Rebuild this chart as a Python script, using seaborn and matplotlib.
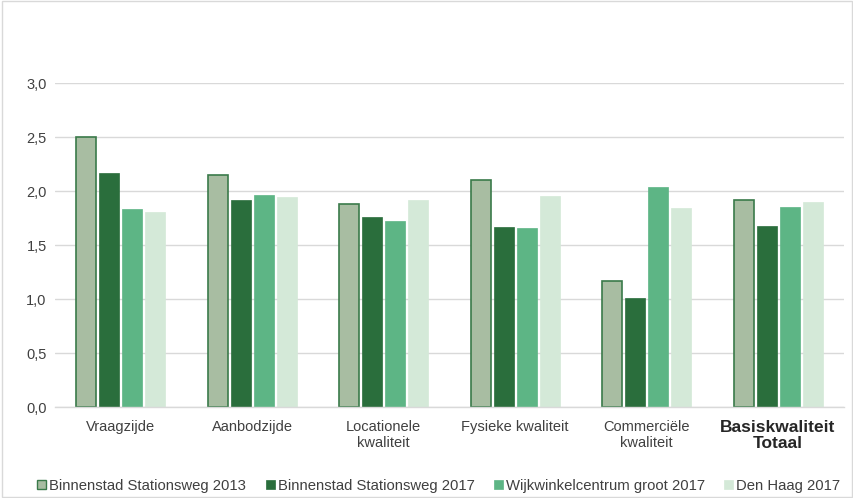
import matplotlib
matplotlib.use("Agg")
import matplotlib.pyplot as plt
import seaborn as sns
import pandas as pd
from matplotlib.patches import Rectangle, Patch

categories = ["Vraagzijde", "Aanbodzijde", "Locationele\nkwaliteit", "Fysieke kwaliteit",
              "Commerciële\nkwaliteit", "Basiskwaliteit\nTotaal"]
series = ["Binnenstad Stationsweg 2013", "Binnenstad Stationsweg 2017",
          "Wijkwinkelcentrum groot 2017", "Den Haag 2017"]
binnenstad_2013 = [2.50, 2.15, 1.88, 2.10, 1.17, 1.92]
binnenstad_2017 = [2.17, 1.92, 1.76, 1.67, 1.01, 1.68]
wijkwinkel_2017 = [1.83, 1.96, 1.72, 1.66, 2.04, 1.85]
den_haag_2017 = [1.81, 1.94, 1.92, 1.95, 1.84, 1.90]
yticks = [0.0, 0.5, 1.0, 1.5, 2.0, 2.5, 3.0]
ytick_labels = ["0,0", "0,5", "1,0", "1,5", "2,0", "2,5", "3,0"]

colors = ["#a8bda2", "#2a6e3c", "#5db585", "#d4e9d8"]
edges = ["#3a7a4a", "#2a6e3c", "#5db585", "#d4e9d8"]

rows = []
for s, vals in zip(series, [binnenstad_2013, binnenstad_2017, wijkwinkel_2017, den_haag_2017]):
    for c, v in zip(categories, vals):
        rows.append({"cat": c, "series": s, "value": v})
df = pd.DataFrame(rows)

sns.set_theme(style="white")
plt.rcParams['font.family'] = ['Liberation Sans', 'DejaVu Sans']

fig = plt.figure(figsize=(8.54, 4.98), dpi=100)
ax = fig.add_axes([0.0644, 0.1827, 0.9236, 0.6506])

sns.barplot(data=df, x="cat", y="value", hue="series", order=categories, hue_order=series,
            palette=colors, width=0.7, gap=0.13, ax=ax, legend=False, saturation=1)

for i, s in enumerate(series):
    cont = ax.containers[i]
    for bar in cont:
        bar.set_edgecolor(edges[i])
        bar.set_linewidth(1.2 if i == 0 else 0.5)

ax.set_ylim(0, 3.0)
ax.set_xlim(-0.5, 5.5)
ax.set_yticks(yticks)
ax.set_yticklabels(ytick_labels, fontsize=10.5, color="#404040")
ax.yaxis.grid(True, color="#d9d9d9", linewidth=1)
ax.set_axisbelow(True)
for sp in ["top", "right", "left"]:
    ax.spines[sp].set_visible(False)
ax.spines["bottom"].set_color("#d9d9d9")
ax.spines["bottom"].set_linewidth(1)
ax.set_xlabel("")
ax.set_ylabel("")
ax.tick_params(axis="y", length=0, pad=6)
ax.tick_params(axis="x", length=0, pad=9)
ax.set_xticks(range(len(categories)))
ax.set_xticklabels(categories, fontsize=10.5, color="#404040", linespacing=1.25)
lbls = ax.get_xticklabels()
lbls[-1].set_fontweight("bold")
lbls[-1].set_fontsize(12.5)
lbls[-1].set_color("#262626")
lbls[-1].set_linespacing(1.15)

handles = [Patch(facecolor=colors[i], edgecolor=edges[i], linewidth=1.0 if i == 0 else 0.5) for i in range(4)]
fig.legend(handles, series, loc="center", bbox_to_anchor=(0.514, 0.025), ncol=4, frameon=False,
           fontsize=10.75, handlelength=0.6, handleheight=0.6, handletextpad=0.2, columnspacing=1.3,
           labelcolor="#404040")

fig.patches.append(Rectangle((0.002, 0.002), 0.996, 0.996, transform=fig.transFigure,
                             fill=False, edgecolor="#d9d9d9", linewidth=1))

fig.savefig("out.png", dpi=100)
